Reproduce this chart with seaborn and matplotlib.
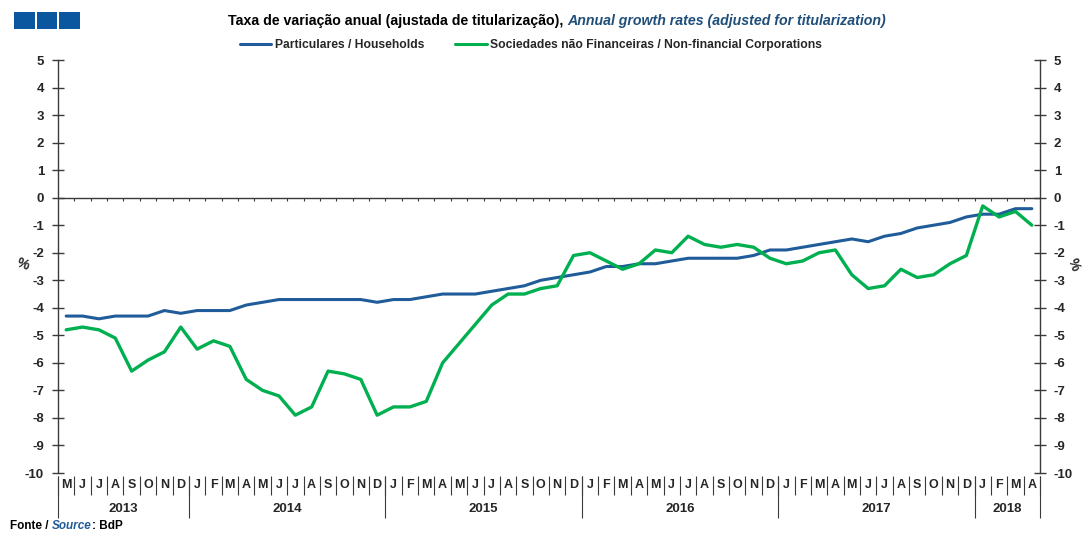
import numpy as np
import pandas as pd
import matplotlib
matplotlib.use("Agg")
import matplotlib.pyplot as plt
import matplotlib.transforms as mtransforms
from matplotlib.patches import Rectangle
import seaborn as sns

# ==========================================
# Data
# ==========================================

start_month = "2013-05"

households = [
    -4.3, -4.3, -4.4, -4.3, -4.3, -4.3, -4.1, -4.2,
    -4.1, -4.1, -4.1, -3.9, -3.8, -3.7, -3.7, -3.7, -3.7, -3.7, -3.7, -3.8,
    -3.7, -3.7, -3.6, -3.5, -3.5, -3.5, -3.4, -3.3, -3.2, -3.0, -2.9, -2.8,
    -2.7, -2.5, -2.5, -2.4, -2.4, -2.3, -2.2, -2.2, -2.2, -2.2, -2.1, -1.9,
    -1.9, -1.8, -1.7, -1.6, -1.5, -1.6, -1.4, -1.3, -1.1, -1.0, -0.9, -0.7,
    -0.6, -0.6, -0.4, -0.4,
]

corporations = [
    -4.8, -4.7, -4.8, -5.1, -6.3, -5.9, -5.6, -4.7,
    -5.5, -5.2, -5.4, -6.6, -7.0, -7.2, -7.9, -7.6, -6.3, -6.4, -6.6, -7.9,
    -7.6, -7.6, -7.4, -6.0, -5.3, -4.6, -3.9, -3.5, -3.5, -3.3, -3.2, -2.1,
    -2.0, -2.3, -2.6, -2.4, -1.9, -2.0, -1.4, -1.7, -1.8, -1.7, -1.8, -2.2,
    -2.4, -2.3, -2.0, -1.9, -2.8, -3.3, -3.2, -2.6, -2.9, -2.8, -2.4, -2.1,
    -0.3, -0.7, -0.5, -1.0,
]

month_letters = ["J", "F", "M", "A", "M", "J", "J", "A", "S", "O", "N", "D"]

series_names = ["Particulares / Households",
                "Sociedades não Financeiras / Non-financial Corporations"]
series_colors = ["#1F5C99", "#00B050"]

y_ticks = list(range(-10, 6))

dates = pd.date_range(start_month, periods=len(households), freq="MS")

df = pd.DataFrame({
    "idx": np.arange(len(dates)),
    series_names[0]: households,
    series_names[1]: corporations,
})
long_df = df.melt(id_vars="idx", var_name="serie", value_name="valor")

# ==========================================
# Figure
# ==========================================

sns.set_theme(style="white")
plt.rcParams["font.family"] = ["Liberation Sans Narrow", "Liberation Sans", "DejaVu Sans"]
plt.rcParams["font.weight"] = "bold"

fig = plt.figure(figsize=(10.82, 5.33), dpi=100)
ax = fig.add_axes([58 / 1082, 1 - 473 / 533, (1040 - 58) / 1082, (473 - 60) / 533])

sns.lineplot(
    data=long_df, x="idx", y="valor", hue="serie",
    palette=series_colors, linewidth=2.2, ax=ax, legend=False,
)
# green a bit thicker, as in the reference
ax.lines[1].set_linewidth(2.4)

n = len(dates)
ax.set_xlim(-0.5, n - 0.5)
ax.set_ylim(-10, 5)
ax.set_xlabel("")
ax.set_ylabel("")

axis_col = "#3A3A3A"

# Spines
for s in ["top", "bottom"]:
    ax.spines[s].set_visible(False)
for s in ["left", "right"]:
    ax.spines[s].set_color(axis_col)
    ax.spines[s].set_linewidth(1)

# Y ticks on both sides
ax.set_yticks(y_ticks)
ax.set_yticklabels([str(t) for t in y_ticks])
ax.tick_params(axis="y", which="both", left=True, right=True,
               labelleft=True, labelright=True, direction="inout",
               length=8, width=1, color=axis_col, labelsize=9.5, pad=6)
ax.set_xticks([])

# Zero line with small monthly ticks below it
ax.axhline(0, color=axis_col, linewidth=1)
bounds = np.arange(n - 1) + 0.5
ax.vlines(bounds, -0.12, 0, color=axis_col, linewidth=0.8)

# % labels
ax.text(-0.036, 0.505, "%", transform=ax.transAxes, ha="center", va="center",
        fontsize=10, rotation=-20)
ax.text(1.034, 0.505, "%", transform=ax.transAxes, ha="center", va="center",
        fontsize=10, rotation=-70)

# Category axis: months and years
trans = mtransforms.blended_transform_factory(ax.transData, ax.transAxes)
for i, d in enumerate(dates):
    ax.text(i, -0.030, month_letters[d.month - 1], transform=trans,
            ha="center", va="center", fontsize=9)

month_bounds = np.arange(n + 1) - 0.5
ax.vlines(month_bounds, -0.053, -0.007, transform=trans, color=axis_col,
          linewidth=0.8, clip_on=False)

year_starts = [0] + [i for i, d in enumerate(dates) if d.month == 1 and i > 0] + [n]
ax.vlines(np.array(year_starts) - 0.5, -0.109, -0.007, transform=trans,
          color=axis_col, linewidth=0.8, clip_on=False)
for a, b in zip(year_starts[:-1], year_starts[1:]):
    ax.text((a + b - 1) / 2, -0.086, str(dates[a].year), transform=trans,
            ha="center", va="center", fontsize=9.5)

# Legend
handles = [plt.Line2D([], [], color=c, linewidth=2.2) for c in series_colors]
fig.legend(handles, series_names, loc="center", bbox_to_anchor=(531 / 1082, 1 - 45 / 533),
           ncol=2, frameon=False, fontsize=8.7, handlelength=2.6,
           handletextpad=0.3, columnspacing=2.6)

# Title in two styles
renderer = fig.canvas.get_renderer()
t1 = fig.text(228 / 1082, 1 - 21 / 533,
              "Taxa de variação anual (ajustada de titularização), ",
              ha="left", va="center", fontsize=10.2, color="black")
bb = t1.get_window_extent(renderer).transformed(fig.transFigure.inverted())
fig.text(bb.x1, 1 - 21 / 533,
         "Annual growth rates (adjusted for titularization)",
         ha="left", va="center", fontsize=10.2, color="#1F4E79", style="italic")

# Source line
f1 = fig.text(10 / 1082, 1 - 526 / 533, "Fonte / ", ha="left", va="center",
              fontsize=8.5, color="black")
bb = f1.get_window_extent(renderer).transformed(fig.transFigure.inverted())
f2 = fig.text(bb.x1, 1 - 526 / 533, "Source", ha="left", va="center",
              fontsize=8.5, color="#1F5C99", style="italic")
bb = f2.get_window_extent(renderer).transformed(fig.transFigure.inverted())
fig.text(bb.x1, 1 - 526 / 533, ": BdP", ha="left", va="center",
         fontsize=8.5, color="black")

# Logo: three blue squares
for k in range(3):
    fig.patches.append(Rectangle(((14 + k * 22.5) / 1082, 1 - 29 / 533),
                                 20.5 / 1082, 17 / 533, transform=fig.transFigure,
                                 facecolor="#0B579F", edgecolor="none"))

fig.savefig("out.png", dpi=100)
